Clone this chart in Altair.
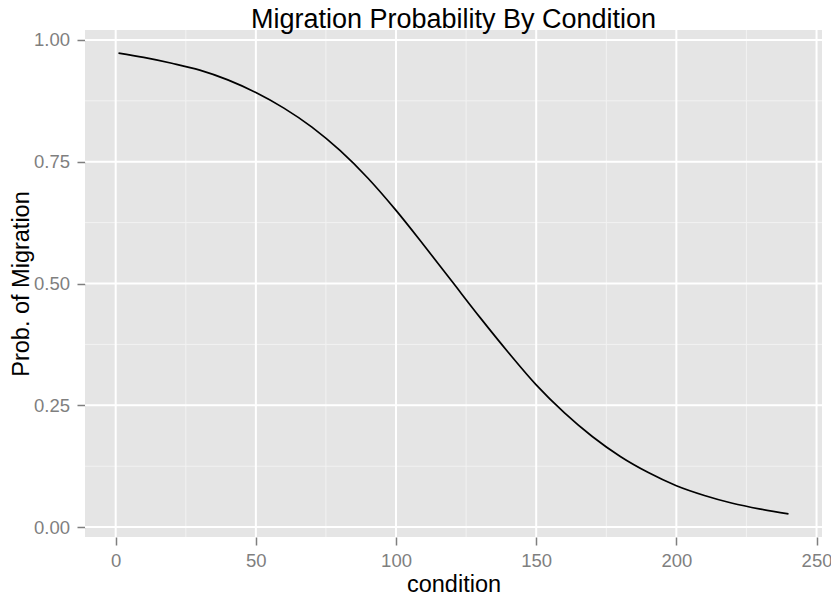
import altair as alt
import pandas as pd

# Values
condition = [1, 10, 20, 30, 40, 50, 60, 70, 80, 90, 100, 110, 120,
             130, 140, 150, 160, 170, 180, 190, 200, 210, 220, 230, 240]
prob = [0.973, 0.964, 0.952, 0.938, 0.918, 0.892, 0.860, 0.821, 0.773,
        0.716, 0.650, 0.578, 0.504, 0.430, 0.359, 0.292, 0.235, 0.186,
        0.145, 0.112, 0.085, 0.065, 0.049, 0.037, 0.027]

x_major = [0, 50, 100, 150, 200, 250]
x_minor = [25, 75, 125, 175, 225]
y_major = [0.0, 0.25, 0.5, 0.75, 1.0]
y_minor = [0.125, 0.375, 0.625, 0.875]
title_text = ["Migration Probability By Condition"]

df = pd.DataFrame({"condition": condition, "prob": prob})

FONT = "Liberation Sans"
W, H = 737, 507
xscale = alt.Scale(domain=[-10.95, 251.95], nice=False, zero=False)
yscale = alt.Scale(domain=[-0.0203, 1.0203], nice=False, zero=False)

xaxis = alt.Axis(values=x_major, grid=False, domain=False, tickColor="#7F7F7F",
                 tickSize=8, tickWidth=1.5, labelColor="#7F7F7F", labelFontSize=18.5,
                 labelFont=FONT, labelPadding=6, title="condition", titleFont=FONT,
                 titleFontSize=23.5, titleFontWeight="normal", titleColor="#000000",
                 titleBaseline="alphabetic", titleY=54.7, titleAnchor="middle")
yaxis = alt.Axis(values=y_major, format=".2f", grid=False, domain=False,
                 tickColor="#7F7F7F", tickSize=8, tickWidth=1.5, labelColor="#7F7F7F",
                 labelFontSize=18.5, labelFont=FONT, labelPadding=7.5,
                 title="Prob. of Migration", titleFont=FONT, titleFontSize=23.5,
                 titleFontWeight="normal", titleColor="#000000", titleAngle=270,
                 titleBaseline="alphabetic", titleX=-56.7, titleAnchor="middle")

X = lambda f: alt.X(f, scale=xscale, axis=xaxis, title="condition")
Y = lambda f: alt.Y(f, scale=yscale, axis=yaxis, title="Prob. of Migration")

vminor = alt.Chart(pd.DataFrame({"condition": x_minor})).mark_rule(
    color="#F2F2F2", strokeWidth=1).encode(x=X("condition:Q"))
hminor = alt.Chart(pd.DataFrame({"prob": y_minor})).mark_rule(
    color="#F2F2F2", strokeWidth=1).encode(y=Y("prob:Q"))
vmajor = alt.Chart(pd.DataFrame({"condition": x_major})).mark_rule(
    color="#FFFFFF", strokeWidth=2).encode(x=X("condition:Q"))
hmajor = alt.Chart(pd.DataFrame({"prob": y_major})).mark_rule(
    color="#FFFFFF", strokeWidth=2).encode(y=Y("prob:Q"))

line = alt.Chart(df).mark_line(color="#000000", strokeWidth=1.7,
                               interpolate="monotone").encode(
    x=X("condition:Q"),
    y=Y("prob:Q"),
)

title = alt.Chart(pd.DataFrame({"t": title_text})).mark_text(
    font=FONT, fontSize=27, color="#000000", align="center",
    baseline="alphabetic").encode(
    text="t:N", x=alt.value(W / 2), y=alt.value(-2.5))

chart = alt.layer(vminor, hminor, vmajor, hmajor, line, title).properties(
    width=W, height=H,
    background="#FFFFFF",
    autosize=alt.AutoSizeParams(type="none"),
    padding={"left": 77, "top": 22, "right": 9, "bottom": 56},
).configure_view(fill="#E5E5E5", strokeWidth=0)

chart.save("out.html", embed_options={"renderer": "svg", "actions": False})
